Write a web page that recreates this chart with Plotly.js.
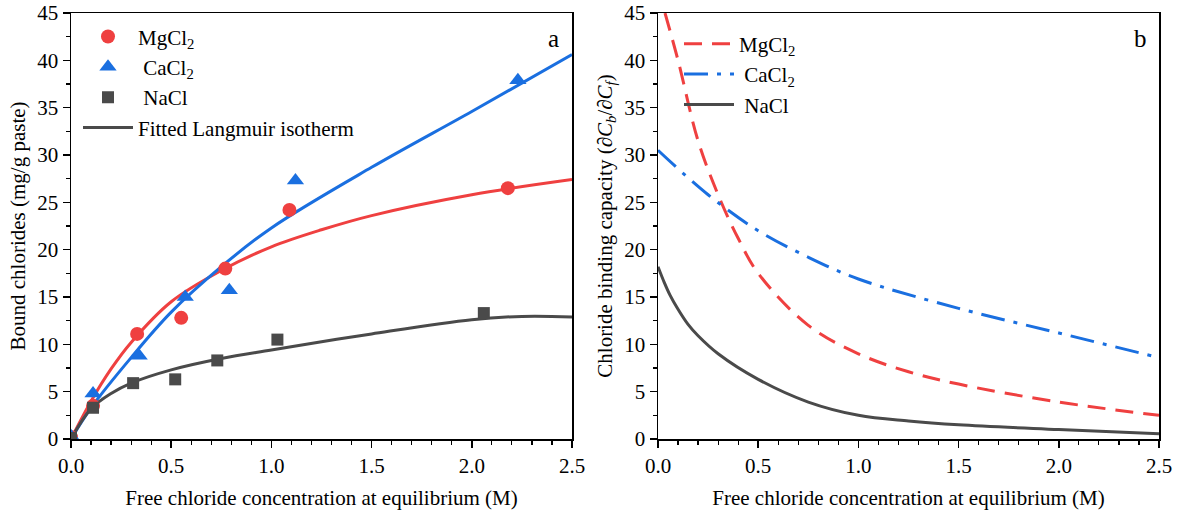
<!DOCTYPE html>
<html><head><meta charset="utf-8">
<script src="https://cdn.plot.ly/plotly-3.0.1.min.js"></script>
<style>html,body{margin:0;padding:0;background:#fff}#chart{width:1177px;height:510px}</style>
</head><body><div id="chart"></div>
<script>
// Panel a: measured points
const mgX = [0.0, 0.11, 0.33, 0.55, 0.77, 1.09, 2.18];
const mgY = [0.2, 3.5, 11.1, 12.8, 18.0, 24.2, 26.5];
const caX = [0.0, 0.11, 0.34, 0.57, 0.79, 1.12, 2.23];
const caY = [0.3, 4.8, 8.8, 15.0, 15.7, 27.3, 37.9];
const naX = [0.0, 0.11, 0.31, 0.52, 0.73, 1.03, 2.06];
const naY = [0.1, 3.3, 5.9, 6.3, 8.3, 10.5, 13.3];
// Panel a: fitted Langmuir curves
const mgFitX = [0, 0.1, 0.2, 0.3, 0.5, 0.75, 1.0, 1.25, 1.5, 2.0, 2.5];
const mgFitY = [0, 4.0, 7.4, 10.2, 14.5, 17.8, 20.3, 22.1, 23.6, 25.8, 27.4];
const caFitX = [0, 0.1, 0.3, 0.5, 0.75, 1.0, 1.5, 2.0, 2.5];
const caFitY = [0, 3.3, 8.6, 13.4, 18.2, 22.3, 28.7, 34.6, 40.6];
const naFitX = [0, 0.1, 0.2, 0.3, 0.5, 0.75, 1.0, 1.5, 2.0, 2.25, 2.5];
const naFitY = [0, 3.2, 4.8, 5.9, 7.3, 8.5, 9.4, 11.1, 12.6, 12.95, 12.9];
// Panel b: binding capacity curves
const mgCapX = [0.035, 0.1, 0.2, 0.3, 0.4, 0.5, 0.75, 1.0, 1.25, 1.5, 2.0, 2.5];
const mgCapY = [45, 40, 31.5, 25.8, 21.2, 17.5, 12.0, 9.0, 7.1, 5.8, 3.9, 2.5];
const caCapX = [0, 0.25, 0.5, 0.75, 1.0, 1.5, 2.0, 2.5];
const caCapY = [30.5, 25.8, 22.0, 19.2, 16.9, 13.8, 11.2, 8.6];
const naCapX = [0, 0.03, 0.06, 0.1, 0.15, 0.2, 0.3, 0.5, 0.75, 1.0, 1.25, 1.5, 2.0, 2.5];
const naCapY = [18.2, 16.6, 15.2, 13.7, 12.1, 10.9, 9.0, 6.3, 3.9, 2.5, 1.9, 1.5, 1.0, 0.55];

const RED = '#ef4040', BLUE = '#1a6fe0', GRAY = '#4a4a4a';
const FONT = '"Liberation Serif", "Times New Roman", serif';

const traces = [
  {x: mgFitX, y: mgFitY, mode: 'lines', line: {color: RED, width: 3, shape: 'spline'}, showlegend: false, xaxis: 'x', yaxis: 'y'},
  {x: caFitX, y: caFitY, mode: 'lines', line: {color: BLUE, width: 3, shape: 'spline'}, showlegend: false, xaxis: 'x', yaxis: 'y'},
  {x: naFitX, y: naFitY, mode: 'lines', line: {color: GRAY, width: 3, shape: 'spline'}, showlegend: false, xaxis: 'x', yaxis: 'y'},
  {x: mgX, y: mgY, mode: 'markers', name: 'MgCl<sub>2</sub>', marker: {symbol: 'circle', size: 14, color: RED}, xaxis: 'x', yaxis: 'y', legend: 'legend'},
  {x: caX, y: caY, mode: 'markers', name: ' CaCl<sub>2</sub>', marker: {symbol: 'triangle-up', size: 15, color: BLUE}, xaxis: 'x', yaxis: 'y', legend: 'legend'},
  {x: naX, y: naY, mode: 'markers', name: ' NaCl', marker: {symbol: 'square', size: 12, color: GRAY}, xaxis: 'x', yaxis: 'y', legend: 'legend'},
  {x: [null], y: [null], mode: 'lines', name: 'Fitted Langmuir isotherm', line: {color: GRAY, width: 3}, xaxis: 'x', yaxis: 'y', legend: 'legend'},
  {x: mgCapX, y: mgCapY, mode: 'lines', name: 'MgCl<sub>2</sub>', line: {color: RED, width: 3, dash: '18px,10px', shape: 'spline'}, xaxis: 'x2', yaxis: 'y2', legend: 'legend2'},
  {x: caCapX, y: caCapY, mode: 'lines', name: ' CaCl<sub>2</sub>', line: {color: BLUE, width: 3, dash: '24px,9px,4px,9px', shape: 'spline'}, xaxis: 'x2', yaxis: 'y2', legend: 'legend2'},
  {x: naCapX, y: naCapY, mode: 'lines', name: ' NaCl', line: {color: GRAY, width: 3, shape: 'spline'}, xaxis: 'x2', yaxis: 'y2', legend: 'legend2'}
];

const xax = (dom, anchor) => ({
  domain: dom, anchor: anchor, range: [0, 2.5], dtick: 0.5, tick0: 0, tickformat: '.1f',
  ticks: 'outside', ticklen: 7, tickwidth: 1.5, tickcolor: '#000',
  minor: {dtick: 0.1, ticks: 'outside', ticklen: 4, tickwidth: 1.2, tickcolor: '#000'},
  showline: true, linecolor: '#000', linewidth: 1.5, mirror: true, showgrid: false, zeroline: false,
  tickfont: {family: FONT, size: 21, color: '#000'},
  title: {text: 'Free chloride concentration at equilibrium (M)', font: {family: FONT, size: 21, color: '#000'}, standoff: 16},
  automargin: false
});
const yax = (anchor, title) => ({
  domain: [0, 1], anchor: anchor, range: [0, 45], dtick: 5, tick0: 0,
  ticks: 'outside', ticklen: 7, tickwidth: 1.5, tickcolor: '#000',
  minor: {dtick: 2.5, ticks: 'outside', ticklen: 4, tickwidth: 1.2, tickcolor: '#000'},
  showline: true, linecolor: '#000', linewidth: 1.5, mirror: true, showgrid: false, zeroline: false,
  tickfont: {family: FONT, size: 21, color: '#000'},
  title: {text: title, font: {family: FONT, size: 21, color: '#000'}, standoff: 6},
  automargin: false
});

const layout = {
  width: 1177, height: 510,
  margin: {l: 0, r: 0, t: 13, b: 71},
  paper_bgcolor: '#fff', plot_bgcolor: '#fff',
  font: {family: FONT, color: '#000'},
  xaxis: xax([71/1177, 572/1177], 'y'),
  yaxis: yax('x', 'Bound chlorides (mg/g paste)'),
  xaxis2: xax([658/1177, 1159/1177], 'y2'),
  yaxis2: yax('x2', 'Chloride binding capacity (∂<i>C</i><sub><i>b</i></sub>/∂<i>C</i><sub><i>f</i></sub>)'),
  legend: {x: 78/1177, y: 0.992, xanchor: 'left', yanchor: 'top', bgcolor: 'rgba(0,0,0,0)',
    font: {family: FONT, size: 21, color: '#000'}, itemwidth: 50, tracegroupgap: 0},
  legend2: {x: 679/1177, y: 0.975, xanchor: 'left', yanchor: 'top', bgcolor: 'rgba(0,0,0,0)',
    font: {family: FONT, size: 21, color: '#000'}, itemwidth: 50, tracegroupgap: 0},
  annotations: [
    {text: 'a', xref: 'paper', yref: 'paper', x: 561/1177, y: 0.94, xanchor: 'right', yanchor: 'middle', showarrow: false, font: {family: FONT, size: 25, color: '#000'}},
    {text: 'b', xref: 'paper', yref: 'paper', x: 1149/1177, y: 0.94, xanchor: 'right', yanchor: 'middle', showarrow: false, font: {family: FONT, size: 25, color: '#000'}}
  ],
  showlegend: true
};

Plotly.newPlot('chart', traces, layout, {displayModeBar: false, staticPlot: true});
</script></body></html>
